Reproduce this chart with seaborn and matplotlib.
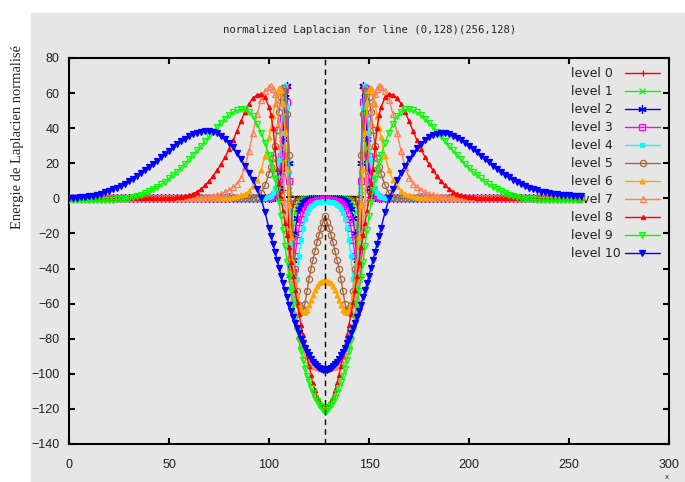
import pandas as pd
import matplotlib
matplotlib.use("Agg")
import matplotlib.pyplot as plt
import seaborn as sns
from matplotlib.patches import Rectangle
from matplotlib.offsetbox import DrawingArea

sns.set_style("ticks")

# sample positions along the line (finer near the square's edges)
x_left = list(range(0, 100, 2)) + list(range(100, 129))
x_right = list(range(129, 157)) + list(range(158, 257, 2))

# level 10
lvl10_left = [0.0, 0.2, 0.4, 0.6, 0.9, 1.2, 1.6, 2.1, 2.7, 3.4,
              4.2, 5.1, 6.1, 7.2, 8.4, 9.7, 11.1, 12.6, 14.2, 15.9,
              17.7, 19.5, 21.4, 23.3, 25.2, 27.1, 29.0, 30.8, 32.5, 34.0,
              35.4, 36.5, 37.4, 38.0, 38.3, 38.3, 37.9, 37.1, 35.8, 34.0,
              31.8, 29.1, 26.0, 22.5, 18.6, 14.6, 10.5, 5.5, 0.0, -8.0,
              -17.0, -21.5, -26.0, -30.5, -35.0, -39.5, -44.0, -48.5, -52.5, -56.5,
              -60.5, -64.0, -67.5, -71.0, -74.0, -77.0, -80.0, -82.5, -85.0, -87.5,
              -89.5, -91.5, -93.0, -94.5, -95.8, -96.8, -97.5, -97.9, -98.0]
lvl10_right = [-97.9, -97.5, -96.8, -95.8, -94.5, -93.0, -91.5, -89.5,
               -87.5, -85.0, -82.5, -80.0, -77.0, -74.0, -71.0, -67.5, -64.0, -60.5,
               -56.5, -52.5, -48.5, -44.0, -39.5, -35.0, -30.5, -26.0, -21.5, -17.0,
               -8.0, 0.0, 5.3, 10.2, 14.6, 18.6, 22.3, 25.6, 28.5, 31.0,
               33.1, 34.8, 36.0, 36.8, 37.1, 37.0, 36.5, 35.7, 34.6, 33.2,
               31.6, 29.9, 28.1, 26.2, 24.3, 22.4, 20.5, 18.7, 16.9, 15.2,
               13.6, 12.1, 10.7, 9.4, 8.2, 7.1, 6.1, 5.2, 4.5, 3.9,
               3.4, 3.0, 2.6, 2.3, 2.1, 1.9, 1.7, 1.6, 1.5, 1.5]

# level 9
lvl9_left = [-0.8, -0.8, -0.9, -0.9, -1.0, -1.0, -1.0, -1.0, -1.0, -1.0,
             -0.9, -0.8, -0.6, -0.4, -0.1, 0.3, 0.8, 1.4, 2.1, 3.0,
             4.0, 5.2, 6.5, 8.0, 9.6, 11.4, 13.3, 15.3, 17.5, 19.8,
             22.2, 24.7, 27.3, 30.0, 32.7, 35.4, 38.1, 40.7, 43.2, 45.5,
             47.5, 49.1, 50.2, 50.8, 50.7, 49.5, 46.8, 42.5, 37.5, 31.5,
             24.5, 20.5, 16.0, 11.0, 5.0, -2.0, -10.0, -18.0, -27.0, -36.0,
             -45.0, -53.0, -61.0, -68.0, -75.0, -81.0, -87.0, -92.0, -97.0, -101.0,
             -104.5, -108.0, -111.0, -113.5, -115.5, -117.5, -119.0, -120.5, -121.5]
lvl9_right = [-120.5, -119.0, -117.5, -115.5, -113.5, -111.0, -108.0, -104.5,
              -101.0, -97.0, -92.0, -87.0, -81.0, -75.0, -68.0, -61.0, -53.0, -45.0,
              -36.0, -27.0, -18.0, -10.0, -2.0, 5.0, 11.0, 16.0, 20.5, 24.5,
              31.5, 37.5, 42.5, 46.8, 49.5, 50.7, 50.8, 50.2, 49.1, 47.5,
              45.5, 43.2, 40.7, 38.1, 35.4, 32.7, 30.0, 27.3, 24.7, 22.2,
              19.8, 17.5, 15.3, 13.3, 11.4, 9.6, 8.0, 6.5, 5.2, 4.0,
              3.0, 2.1, 1.4, 0.8, 0.3, -0.1, -0.4, -0.6, -0.8, -0.9,
              -1.0, -1.0, -1.0, -1.0, -1.0, -1.0, -0.9, -0.9, -0.8, -0.8]

# level 8
lvl8_left = [0.0] * 24 + [
    0.1, 0.2, 0.3, 0.5, 0.8, 1.2, 1.8, 2.6, 3.8, 5.4,
    7.4, 9.8, 12.7, 16.0, 19.5, 23.5, 28.0, 33.0, 38.5, 44.0,
    49.5, 54.0, 57.2, 59.0, 59.5, 57.5,
    52.0, 47.5, 40.0, 29.0, 17.0, 8.0, 0.0, -7.0, -14.0, -21.0,
    -28.0, -36.0, -44.0, -52.0, -59.0, -66.0, -72.0, -78.0, -84.0, -90.0,
    -95.5, -100.5, -105.5, -109.5, -113.0, -115.5, -117.5, -118.8, -119.3]
lvl8_right = [-118.8, -117.5, -115.5, -113.0, -109.5, -105.5, -100.5, -95.5,
              -90.0, -84.0, -78.0, -72.0, -66.0, -59.0, -52.0, -44.0, -36.0, -28.0,
              -21.0, -14.0, -7.0, 0.0, 8.0, 17.0, 29.0, 40.0, 47.5, 52.0,
              57.5, 59.5, 59.0, 57.2, 54.0, 49.5, 44.0, 38.5, 33.0, 28.0,
              23.5, 19.5, 16.0, 12.7, 9.8, 7.4, 5.4, 3.8, 2.6, 1.8,
              1.2, 0.8, 0.5, 0.3, 0.2, 0.1] + [0.0] * 24

# level 7
lvl7_left = [0.0] * 32 + [
    0.2, 0.4, 0.6, 0.9, 1.3, 1.8, 2.5, 3.4, 4.6, 6.2,
    8.3, 11.8, 18.0, 27.0, 37.5, 48.0, 56.0, 61.0,
    63.5, 63.8, 62.5, 59.5, 54.5, 43.0, 30.0, 14.0, -2.0, -18.0,
    -33.0, -46.0, -57.0, -66.0, -73.0, -78.5, -83.0, -86.5, -89.5, -91.5,
    -93.0, -94.2, -95.0, -95.5, -95.9, -96.2, -96.4, -96.5, -96.5]
lvl7_right = [-96.5, -96.4, -96.2, -95.9, -95.5, -95.0, -94.2, -93.0,
              -91.5, -89.5, -86.5, -83.0, -78.5, -73.0, -66.0, -57.0, -46.0, -33.0,
              -18.0, -2.0, 14.0, 30.0, 43.0, 54.5, 59.5, 62.5, 63.8, 63.5,
              61.0, 56.0, 48.0, 37.5, 27.0, 18.0, 11.8, 8.3, 6.2, 4.6,
              3.4, 2.5, 1.8, 1.3, 0.9, 0.6, 0.4, 0.2] + [0.0] * 32

# level 6
lvl6_left = [0.0] * 38 + [
    0.1, 0.2, 0.4, 0.7, 1.1, 1.7, 2.7, 4.2, 6.8, 10.5, 16.0, 24.0,
    35.0, 40.0, 47.0, 54.0, 60.0, 63.0, 62.0, 54.0, 38.0, 17.0,
    -4.0, -22.0, -36.0, -47.0, -55.0, -60.5, -63.5, -65.0, -65.0, -63.5,
    -61.0, -58.0, -55.0, -52.0, -50.0, -48.5, -47.5, -47.0, -46.8]
lvl6_right = [-47.0, -47.5, -48.5, -50.0, -52.0, -55.0, -58.0, -61.0,
              -63.5, -65.0, -65.0, -63.5, -60.5, -55.0, -47.0, -36.0, -22.0, -4.0,
              17.0, 38.0, 54.0, 62.0, 63.0, 60.0, 54.0, 47.0, 40.0, 35.0,
              24.0, 16.0, 10.5, 6.8, 4.2, 2.7, 1.7, 1.1, 0.7, 0.4, 0.2, 0.1] + [0.0] * 38

# level 5
lvl5_left = [0.0] * 45 + [
    0.1, 0.4, 1.0, 3.0, 7.5,
    14.0, 18.0, 23.0, 30.0, 39.0, 49.0, 58.0, 63.0, 61.0, 48.0,
    25.0, 0.0, -22.0, -40.0, -53.0, -61.0, -64.5, -64.0, -60.0, -53.0,
    -46.0, -40.0, -35.0, -30.0, -25.0, -21.0, -17.0, -13.5, -10.0]
lvl5_right = [-13.5, -17.0, -21.0, -25.0, -30.0, -35.0, -40.0, -46.0,
              -53.0, -60.0, -64.0, -64.5, -61.0, -53.0, -40.0, -22.0, 0.0, 25.0,
              48.0, 61.0, 63.0, 58.0, 49.0, 39.0, 30.0, 23.0, 18.0, 14.0,
              7.5, 3.0, 1.0, 0.4, 0.1] + [0.0] * 45

# level 4
lvl4_left = [0.0] * 49 + [
    0.2,
    0.8, 1.5, 3.0, 6.0, 12.0, 22.0, 37.0, 54.0, 64.0, 52.0,
    15.0, -25.0, -50.0, -58.0, -46.0, -33.0, -24.0, -17.0, -12.0, -8.5,
    -6.0, -4.5, -3.5, -2.8, -2.3, -2.0, -1.8, -1.7, -1.7]
lvl4_right = [-1.7, -1.8, -2.0, -2.3, -2.8, -3.5, -4.5, -6.0,
              -8.5, -12.0, -17.0, -24.0, -33.0, -46.0, -58.0, -50.0, -25.0, 15.0,
              52.0, 64.0, 54.0, 37.0, 22.0, 12.0, 6.0, 3.0, 1.5, 0.8,
              0.2] + [0.0] * 49

# level 3
lvl3_left = [0.0] * 50 + [
    0.3, 0.6, 1.2, 2.5, 5.0, 11.0, 24.0, 45.0, 63.0, 55.0,
    10.0, -30.0, -42.0, -33.0, -24.0, -17.0, -12.0, -9.0, -6.5, -4.5,
    -3.2, -2.3, -1.7, -1.3, -1.0, -0.8, -0.7, -0.6, -0.6]
lvl3_right = [-0.6, -0.7, -0.8, -1.0, -1.3, -1.7, -2.3, -3.2,
              -4.5, -6.5, -9.0, -12.0, -17.0, -24.0, -33.0, -42.0, -30.0, 10.0,
              55.0, 63.0, 45.0, 24.0, 11.0, 5.0, 2.5, 1.2, 0.6, 0.3] + [0.0] * 50

# level 2
lvl2_left = [0.0] * 50 + [
    0.0, 0.2, 0.5, 1.0, 2.5, 6.0, 15.0, 34.0, 58.0, 64.0,
    20.0, -38.0, -35.0, -20.0, -11.0, -6.0, -3.5, -2.0, -1.3, -0.9,
    -0.6, -0.5, -0.4, -0.3, -0.3, -0.3, -0.3, -0.3, -0.3]
lvl2_right = [-0.3, -0.3, -0.3, -0.3, -0.3, -0.4, -0.5, -0.6,
              -0.9, -1.3, -2.0, -3.5, -6.0, -11.0, -20.0, -35.0, -38.0, 20.0,
              64.0, 58.0, 34.0, 15.0, 6.0, 2.5, 1.0, 0.5, 0.2, 0.0] + [0.0] * 50

# level 1
lvl1_left = [0.0] * 50 + [
    0.0, 0.0, 0.0, 0.3, 1.0, 3.0, 8.0, 22.0, 48.0, 64.0,
    5.0, -40.0, -20.0, -8.0, -3.5, -1.5, -0.8, -0.5, -0.3, -0.2,
    -0.1, -0.1, -0.1, -0.1, 0.0, 0.0, 0.0, 0.0, 0.0]
lvl1_right = [0.0, 0.0, 0.0, 0.0, -0.1, -0.1, -0.1, -0.1,
              -0.2, -0.3, -0.5, -0.8, -1.5, -3.5, -8.0, -20.0, -40.0, 5.0,
              64.0, 48.0, 22.0, 8.0, 3.0, 1.0, 0.3, 0.0, 0.0, 0.0] + [0.0] * 50

# level 0
lvl0_left = [0.0] * 56 + [1.0, 5.0, 25.0, 64.0, -45.0, -15.0, -3.0, -1.0] + [0.0] * 15
lvl0_right = [0.0] * 14 + [-1.0, -3.0, -15.0, -45.0, 64.0, 25.0, 5.0, 1.0] + [0.0] * 56

# flat black segment inside the square and the centre line
flat_x = [109, 147]
flat_y = [0.6, 0.6]
center_x = 128

level_names = ["level %d" % i for i in range(11)]
level_values = [lvl0_left + lvl0_right, lvl1_left + lvl1_right, lvl2_left + lvl2_right,
                lvl3_left + lvl3_right, lvl4_left + lvl4_right, lvl5_left + lvl5_right,
                lvl6_left + lvl6_right, lvl7_left + lvl7_right, lvl8_left + lvl8_right,
                lvl9_left + lvl9_right, lvl10_left + lvl10_right]
colors = ["#ff0000", "#00ff00", "#0000ff", "#ff00ff", "#00ffff", "#a8663f",
          "#ffa500", "#ff7f50", "#ff0000", "#00ff00", "#0000ff"]
# (marker, size, filled)
marker_styles = [("+", 5, True), ("x", 4, True), ((6, 2, 0), 6, True), ("s", 4, False),
                 ("s", 3.5, True), ("o", 4.5, False), ("^", 3.5, True), ("^", 5, False),
                 ("^", 3, True), ("v", 5, False), ("v", 5, True)]

x_all = x_left + x_right
rows = []
for name, vals in zip(level_names, level_values):
    for xv, yv in zip(x_all, vals):
        rows.append((name, xv, yv))
df = pd.DataFrame(rows, columns=["level", "x", "y"])

fig = plt.figure(figsize=(6.85, 4.82), dpi=100)
fig.patch.set_facecolor("white")
grey = "#e6e6e6"
fig.patches.append(Rectangle((31 / 685, 0), 1 - 31 / 685, 1 - 13 / 482,
                             transform=fig.transFigure, color=grey, zorder=-5))
ax = fig.add_axes([69 / 685, 1 - 444 / 482, 600 / 685, 386 / 482])
ax.set_zorder(2)
ax.set_facecolor(grey)

ax.plot(flat_x, flat_y, color="black", lw=1.5, zorder=1)

for i, name in enumerate(level_names):
    m, ms, filled = marker_styles[i]
    sub = df[df["level"] == name]
    sns.lineplot(data=sub, x="x", y="y", ax=ax, color=colors[i], lw=1.0,
                 marker=m, markersize=ms, markeredgewidth=0.9,
                 markerfacecolor=colors[i] if filled else "none",
                 markeredgecolor=colors[i], estimator=None, sort=False,
                 label=name, zorder=2 + i)

ax.axvline(center_x, color="black", lw=1.0, ls=(0, (4, 3)), zorder=20)

ax.set_xlim(0, 300)
ax.set_ylim(-140, 80)
ax.set_xticks(range(0, 301, 50))
ax.set_yticks(range(-140, 81, 20))
ax.set_xlabel("")
ax.set_ylabel("")
for sp in ax.spines.values():
    sp.set_visible(True)
    sp.set_linewidth(1.5)
    sp.set_color("black")
ax.tick_params(direction="in", length=4, width=1.5, top=True, right=True,
               labelsize=9, colors="black")
ax.tick_params(axis="x", pad=11)
ax.tick_params(axis="y", pad=7)
for lab in ax.get_xticklabels() + ax.get_yticklabels():
    lab.set_fontfamily("Liberation Sans")
    lab.set_color("#222222")

# gnuplot-style key: labels left aligned, samples in one column
fs = 9
pad = 0.3
handles, labels = ax.get_legend_handles_labels()
leg = ax.legend(handles, labels, loc="upper right", bbox_to_anchor=(0.985, 0.976),
                frameon=False, markerfirst=False, handlelength=2.8, handletextpad=pad,
                labelspacing=0.40, borderpad=0, borderaxespad=0, numpoints=1,
                prop={"family": "DejaVu Sans", "size": fs})
for col in leg._legend_handle_box.get_children():
    col.align = "left"
    for row in col.get_children()[:10]:
        # one digit shorter than "level 10": pad so the samples line up
        row._children.insert(1, DrawingArea(0.636 * fs - pad * fs, 0))
for t in leg.get_texts():
    t.set_color("#222222")

fig.text(369.5 / 685, 1 - 30 / 482, "normalized Laplacian for line (0,128)(256,128)",
         ha="center", va="center", family="DejaVu Sans Mono", fontsize=7.7)
fig.text(18 / 685, 1 - 137 / 482, "Energie de Laplacien normalisé", rotation=90,
         ha="center", va="center", family="Liberation Serif", fontsize=10.5)
fig.text(667 / 685, 1 - 477 / 482, "x", ha="center", va="center",
         family="DejaVu Sans", fontsize=5)

fig.savefig("out.png", dpi=100, facecolor=fig.get_facecolor())
